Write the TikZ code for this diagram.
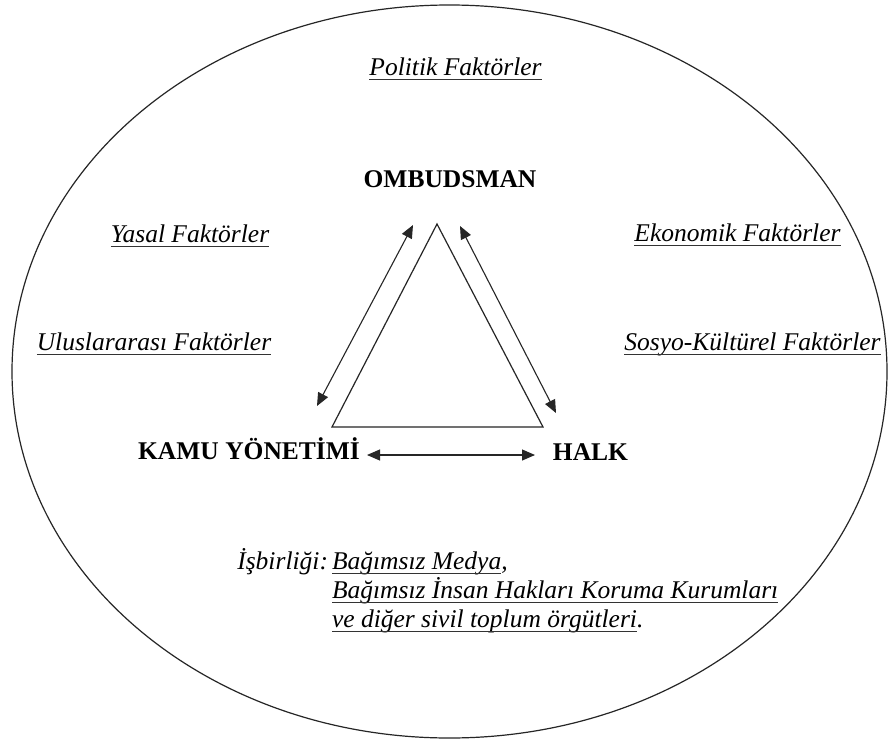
\documentclass[tikz,border=0pt]{standalone}
\usepackage{fontspec}
\setmainfont{Liberation Serif}
\usetikzlibrary{arrows.meta,shapes.geometric}
\begin{document}
\begin{tikzpicture}[x=1pt,y=-1pt,
  txt/.style={inner sep=0pt,outer sep=0pt,font=\fontsize{25.5}{29}\selectfont},
  fac/.style={txt,font=\fontsize{25.5}{29}\selectfont\itshape,anchor=base},
  actor/.style={txt,font=\fontsize{25.5}{29}\selectfont\bfseries,anchor=base},
  itx/.style={txt,font=\fontsize{25.5}{29}\selectfont\itshape,anchor=base west},
  uline/.style={line width=1.3pt,draw=black!80},
  outline/.style={line width=1.2pt,draw=black!85},
  link/.style={line width=1.1pt,draw=black!85,{Triangle[length=13pt,width=11pt]}-{Triangle[length=13pt,width=11pt]}}]
\useasboundingbox (0,0) rectangle (889,744);
\fill[white] (0,0) rectangle (889,744);
% outer ellipse
\node[outline,ellipse,minimum width=875pt,minimum height=733pt,inner sep=0pt] (env) at (449.5,371.5) {};
% factors
\node[fac] (pol) at (455.5,75) {Politik Faktörler};
\node[fac] (yas) at (190,242) {Yasal Faktörler};
\node[fac] (ulu) at (154,350) {Uluslararası Faktörler};
\node[fac] (eko) at (737.5,241) {Ekonomik Faktörler};
\node[fac] (sos) at (752.5,350) {Sosyo-Kültürel Faktörler};
\foreach \n in {pol,yas,ulu,eko,sos}
  \draw[uline] ([yshift=-4.5pt]\n.base west) -- ([yshift=-4.5pt]\n.base east);
% actors
\node[actor] (omb) at (450,187) {OMBUDSMAN};
\node[actor] (kamu) at (249,459) {KAMU YÖNETİMİ};
\node[actor] (halk) at (590.5,460) {HALK};
% triangle
\coordinate (ta) at (437,224);
\coordinate (tl) at (332,427);
\coordinate (tr) at (543,427);
\draw[outline,line join=miter] (ta) -- (tl) -- (tr) -- cycle;
% arrows
\coordinate (la1) at (413,225);
\coordinate (la2) at (317,406);
\coordinate (ra1) at (460,226);
\coordinate (ra2) at (556,413);
\coordinate (ha1) at (367,455);
\coordinate (ha2) at (535,455);
\draw[link] (la2) -- (la1);
\draw[link] (ra1) -- (ra2);
\draw[link] (ha1) -- (ha2);
% cooperation text
\node[itx,anchor=base east] (isb) at (328,569) {İşbirliği:};
\node[itx] (med) at (332,569) {Bağımsız Medya};
\node[itx] (com) at (med.base east) {,};
\node[itx] (ins) at (332,598) {Bağımsız İnsan Hakları Koruma Kurumları};
\node[itx] (svl) at (332,627) {ve diğer sivil toplum örgütleri};
\node[itx] (dot) at (svl.base east) {.};
\foreach \n in {med,ins,svl}
  \draw[uline] ([yshift=-4.5pt]\n.base west) -- ([yshift=-4.5pt]\n.base east);
\end{tikzpicture}
\end{document}
